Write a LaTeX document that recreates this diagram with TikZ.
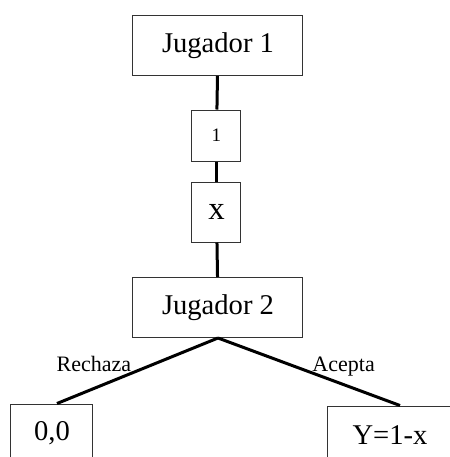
\documentclass[tikz,border=0pt]{standalone}
\usepackage{fontspec}
\setmainfont{Liberation Serif}
\usepackage{tikz}
\usetikzlibrary{positioning}

\begin{document}
\begin{tikzpicture}[x=0.5pt, y=-0.5pt,
    caja/.style={draw=black!80, line width=0.5pt, inner sep=0pt, fill=white},
    jugador/.style={caja, minimum width=85pt, minimum height=30pt, font=\fontsize{14.3}{16}\selectfont},
    oferta/.style={caja, minimum width=24.5pt},
    pago/.style={caja, minimum width=41pt, minimum height=29pt, font=\fontsize{14.3}{16}\selectfont},
    rama/.style={line width=1.5pt},
    etiqueta/.style={inner sep=0pt, font=\fontsize{11}{13}\selectfont}]
    \useasboundingbox (0,0) rectangle (450,457);

    % Players and the offer
    \node[jugador] (j1) at (218,45.5) {Jugador 1};
    \node[oferta, minimum height=25.5pt, font=\fontsize{9.5}{11}\selectfont] (uno) at (216.5,135.5) {1};
    \node[oferta, minimum height=30pt, font=\fontsize{16.4}{18}\selectfont] (x) at (216.5,212) {x};
    \node[jugador] (j2) at (218,307.5) {Jugador 2};

    % Payoffs
    \node[pago] (rechazo) at (52,433) {0,0};
    \node[pago, minimum width=62pt] (acepto) at (390,435) {Y=1-x};

    \draw[rama] (j1) -- (uno);
    \draw[rama] (uno) -- (x);
    \draw[rama] (x) -- (j2);

    % Choices of player 2
    \draw[rama] (j2.south) -- ([xshift=2.5pt]rechazo.north)
        node[etiqueta, pos=0.53, anchor=south east] {Rechaza};
    \draw[rama] (j2.south) -- ([xshift=5pt]acepto.north)
        node[etiqueta, pos=0.5, anchor=base west, xshift=1pt] {Acepta};
\end{tikzpicture}
\end{document}
